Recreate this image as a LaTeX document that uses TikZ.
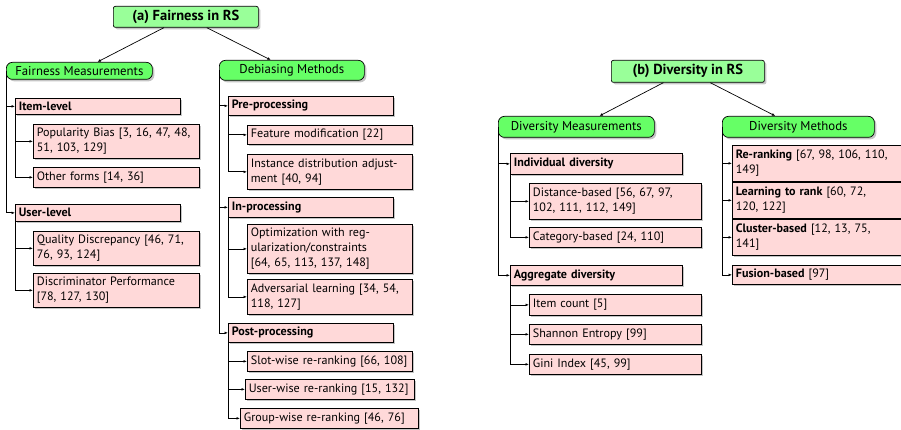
\documentclass[tikz,border=0pt]{standalone}
\usepackage{fontspec}
\setmainfont{PT Sans}
\usetikzlibrary{shadows,arrows.meta,calc}
\definecolor{titlegreen}{RGB}{153,255,153}
\definecolor{catgreen}{RGB}{102,255,102}
\definecolor{pinkfill}{RGB}{255,217,217}
\tikzset{
  shad/.style={drop shadow={shadow xshift=2pt,shadow yshift=-2pt,fill=black!45}},
  titlebox/.style={draw,fill=titlegreen,rounded corners=2pt,line width=0.7pt,shad,anchor=north west,
     inner sep=0pt,align=center,font=\fontsize{14.5}{16}\selectfont\bfseries},
  catbox/.style={draw,fill=catgreen,rounded corners=6pt,line width=0.7pt,shad,anchor=north west,
     inner sep=0pt,align=center,font=\fontsize{12.8}{14}\selectfont},
  leaf/.style={draw,fill=pinkfill,line width=0.7pt,shad,anchor=north west,inner xsep=3.5pt,inner ysep=1pt,
     align=left,font=\fontsize{12.1}{15}\selectfont},
  conn/.style={line width=0.7pt,-{Latex[length=3.5pt,width=2.8pt]}},
}
\newcommand{\bx}[6]{\node[leaf,minimum width=#4pt,minimum height=#5pt,text width=#4pt-7pt] (#1) at (#2,#3) {#6};}
\begin{document}
\begin{tikzpicture}[x=1pt,y=-1pt]
\clip (0,0) rectangle (901,430);
\fill[white] (0,0) rectangle (901,430);
% ---------- (a) Fairness ----------
\node[titlebox,minimum width=145pt,minimum height=21pt] (ta) at (113,6) {(a) Fairness in RS};
\node[catbox,minimum width=146pt,minimum height=17pt] (fm) at (6,62) {Fairness Measurements};
\node[catbox,minimum width=145pt,minimum height=20pt] (dm) at (219,60) {Debiasing Methods};
\draw[conn] ([xshift=-22pt]ta.south) -- ([xshift=18pt]fm.north);
\draw[conn] ([xshift=21pt]ta.south) -- ([xshift=-21pt]dm.north);

\bx{item}{15}{98}{165}{16}{\textbf{Item-level}}
\bx{pb}{33}{124}{166}{34}{Popularity Bias [3, 16, 47, 48,\\51, 103, 129]}
\bx{of}{33}{167}{166}{20}{\mbox{Other forms [14, 36]}}
\bx{user}{15}{204}{165}{17}{\textbf{User-level}}
\bx{qd}{33}{231}{166}{34}{Quality Discrepancy [46, 71,\\76, 93, 124]}
\bx{dp}{33}{273}{166}{34}{Discriminator Performance\\{}[78, 127, 130]}

\bx{pre}{228}{96}{165}{19}{\textbf{Pre-processing}}
\bx{fmod}{247}{125}{165}{19}{\mbox{Feature modification [22]}}
\bx{ida}{247}{154}{165}{35}{Instance distribution adjust-\\ment [40, 94]}
\bx{inp}{228}{197}{165}{20}{\textbf{In-processing}}
\bx{opt}{247}{224}{165}{49}{Optimization with reg-\\ularization/constraints\\{}[64, 65, 113, 137, 148]}
\bx{adv}{247}{279}{165}{35}{Adversarial learning [34, 54,\\118, 127]}
\bx{post}{228}{323}{165}{19}{\textbf{Post-processing}}
\bx{slot}{247}{351}{165}{20}{\mbox{Slot-wise re-ranking [66, 108]}}
\bx{userw}{245}{379}{169}{20}{\mbox{User-wise re-ranking [15, 132]}}
\bx{group}{240}{408}{178}{20}{\mbox{Group-wise re-ranking [46, 76]}}

\draw[conn] (fm.west) |- (item.west);
\draw[conn] (fm.west) |- (user.west);
\draw[conn] (item.south west) |- (pb.west);
\draw[conn] (item.south west) |- (of.west);
\draw[conn] (user.south west) |- (qd.west);
\draw[conn] (user.south west) |- (dp.west);
\draw[conn] (dm.west) |- (pre.west);
\draw[conn] (dm.west) |- (inp.west);
\draw[conn] (dm.west) |- (post.west);
\draw[conn] (pre.south west) |- (fmod.west);
\draw[conn] (pre.south west) |- (ida.west);
\draw[conn] (inp.south west) |- (opt.west);
\draw[conn] (inp.south west) |- (adv.west);
\draw[conn] (post.south west) |- (slot.west);
\draw[conn] (post.south west) |- (userw.west);
\draw[conn] (post.south west) |- (group.west);

% ---------- (b) Diversity ----------
\node[titlebox,minimum width=153pt,minimum height=22pt] (tb) at (611,60) {(b) Diversity in RS};
\node[catbox,minimum width=156pt,minimum height=21pt] (vm) at (498,116) {Diversity Measurements};
\node[catbox,minimum width=152pt,minimum height=21pt] (vn) at (722,116) {Diversity Methods};
\draw[conn] ([xshift=-24.5pt]tb.south) -- ([xshift=23pt]vm.north);
\draw[conn] ([xshift=22.5pt]tb.south) -- ([xshift=-23pt]vn.north);

\bx{ind}{510}{153}{172}{21}{\textbf{Individual diversity}}
\bx{dist}{529}{183}{172}{36}{Distance-based [56, 67, 97,\\102, 111, 112, 149]}
\bx{cat}{529}{227}{172}{20}{\mbox{Category-based [24, 110]}}
\bx{agg}{510}{265}{172}{20}{\textbf{Aggregate diversity}}
\bx{ic}{529}{294}{172}{21}{\mbox{Item count [5]}}
\bx{sh}{529}{324}{172}{20}{\mbox{Shannon Entropy [99]}}
\bx{gini}{529}{354}{172}{20}{\mbox{Gini Index [45, 99]}}

\bx{rr}{732}{145}{172}{36}{\mbox{\textbf{Re-ranking} [67, 98, 106, 110,}\\149]}
\bx{ltr}{732}{182}{172}{36}{\textbf{Learning to rank} [60, 72,\\120, 122]}
\bx{cl}{732}{219}{172}{36}{\textbf{Cluster-based} [12, 13, 75,\\141]}
\bx{fu}{732}{265}{172}{19}{\mbox{\textbf{Fusion-based} [97]}}

\draw[conn] (vm.west) |- (ind.west);
\draw[conn] (vm.west) |- (agg.west);
\draw[conn] (ind.south west) |- (dist.west);
\draw[conn] (ind.south west) |- (cat.west);
\draw[conn] (agg.south west) |- (ic.west);
\draw[conn] (agg.south west) |- (sh.west);
\draw[conn] (agg.south west) |- (gini.west);
\draw[conn] (vn.west) |- (rr.west);
\draw[conn] (vn.west) |- (ltr.west);
\draw[conn] (vn.west) |- (cl.west);
\draw[conn] (vn.west) |- (fu.west);
\end{tikzpicture}
\end{document}
